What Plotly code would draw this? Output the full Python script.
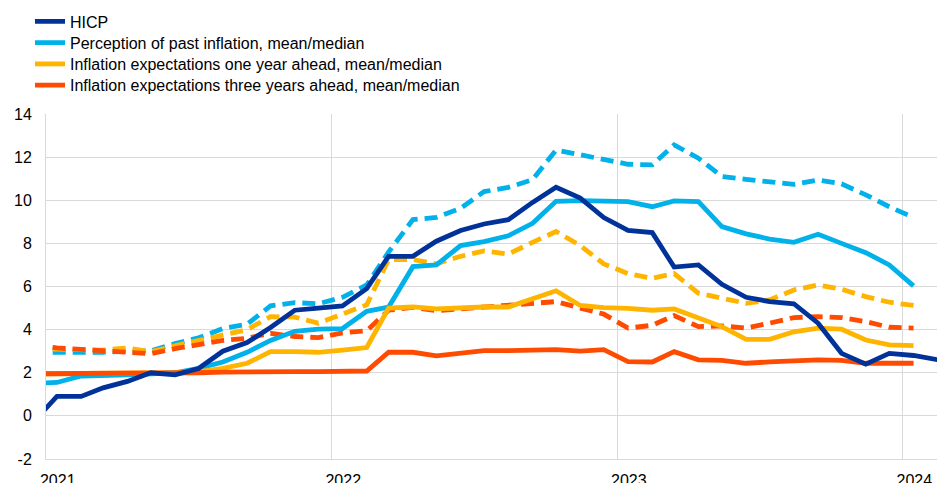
import pandas as pd
import plotly.graph_objects as go

# Monthly observations, Dec 2020 onwards (plotted mid-month)
months_hicp = pd.date_range("2020-12-01", periods=39, freq="MS") + pd.Timedelta(days=14)
months_survey = months_hicp[:38]

hicp = [-0.3,
        0.9, 0.9, 1.3, 1.6, 2.0, 1.9, 2.2, 3.0, 3.4, 4.1, 4.9, 5.0,
        5.1, 5.9, 7.4, 7.4, 8.1, 8.6, 8.9, 9.1, 9.9, 10.6, 10.1, 9.2,
        8.6, 8.5, 6.9, 7.0, 6.1, 5.5, 5.3, 5.2, 4.3, 2.9, 2.4, 2.9,
        2.8, 2.6]

past_median = [1.5,
               1.55, 1.85, 1.9, 1.9, 1.95, 2.0, 2.2, 2.5, 2.95, 3.5, 3.92, 4.02,
               4.05, 4.85, 5.05, 6.92, 7.0, 7.9, 8.08, 8.35, 8.93, 9.95, 9.98, 9.98,
               9.94, 9.7, 9.97, 9.94, 8.78, 8.44, 8.2, 8.05, 8.42, 8.0, 7.57, 7.0,
               6.03]
past_mean = [2.95,
             2.95, 2.93, 2.95, 3.0, 3.02, 3.35, 3.62, 4.05, 4.25, 5.1, 5.25, 5.2,
             5.5, 6.07, 7.6, 9.1, 9.2, 9.63, 10.4, 10.6, 10.95, 12.33, 12.1, 11.87,
             11.67, 11.64, 12.57, 11.95, 11.1, 10.97, 10.87, 10.74, 10.94, 10.76, 10.25, 9.7,
             9.2]
one_year_median = [1.95,
                   1.95, 1.95, 1.95, 1.95, 1.95, 2.0, 2.05, 2.2, 2.44, 2.98, 2.98, 2.95,
                   3.05, 3.17, 5.0, 5.05, 4.96, 5.02, 5.05, 5.05, 5.46, 5.8, 5.12, 5.02,
                   4.99, 4.9, 4.96, 4.56, 4.14, 3.55, 3.55, 3.9, 4.07, 4.02, 3.52, 3.29,
                   3.26]
one_year_mean = [3.12,
                 3.08, 3.05, 3.05, 3.15, 2.98, 3.25, 3.5, 3.78, 4.0, 4.6, 4.58, 4.3,
                 4.75, 5.15, 7.25, 7.25, 7.05, 7.4, 7.65, 7.5, 8.05, 8.55, 7.9, 7.05,
                 6.6, 6.38, 6.6, 5.69, 5.46, 5.22, 5.38, 5.84, 6.07, 5.87, 5.53, 5.27,
                 5.12]
three_year_median = [1.95,
                     1.95, 1.95, 1.95, 1.95, 1.95, 1.97, 2.0, 2.03, 2.05, 2.05, 2.05, 2.05,
                     2.05, 2.08, 2.95, 2.95, 2.78, 2.93, 3.03, 3.03, 3.03, 3.07, 3.0, 3.07,
                     2.52, 2.5, 2.98, 2.6, 2.57, 2.44, 2.5, 2.55, 2.6, 2.57, 2.44, 2.44,
                     2.44]
three_year_mean = [3.28,
                   3.15, 3.08, 3.02, 2.97, 2.88, 3.12, 3.3, 3.5, 3.6, 3.83, 3.68, 3.63,
                   3.85, 3.95, 4.9, 5.03, 4.88, 4.96, 5.05, 5.12, 5.2, 5.3, 5.0, 4.72,
                   4.07, 4.2, 4.65, 4.14, 4.17, 4.07, 4.3, 4.56, 4.6, 4.56, 4.37, 4.11,
                   4.07]

year_ticks = ["2021-01-16", "2022-01-16", "2023-01-16", "2024-01-16"]
year_labels = ["2021", "2022", "2023", "2024"]
y_ticks = [-2, 0, 2, 4, 6, 8, 10, 12, 14]
y_labels = ["-2", "0", "2", "4", "6", "8", "10", "12", "14"]

DARK_BLUE = "#003299"
LIGHT_BLUE = "#00B1EA"
YELLOW = "#FFB400"
ORANGE = "#FF4B00"
GRID = "#d9d9d9"
LW = 4.8
DASH = "13px,7px"

W, H = 937, 483
ML, MR, MT, MB = 46, 0, 114, 24
PW, PH = W - ML - MR, H - MT - MB


def px_to_paper_x(px):
    return (px - ML) / PW


def px_to_paper_y(py):
    return (H - MB - py) / PH


fig = go.Figure()

series = [
    ("Perception of past inflation, mean/median", LIGHT_BLUE, past_median, past_mean, "legend2"),
    ("Inflation expectations one year ahead, mean/median", YELLOW, one_year_median, one_year_mean, "legend3"),
    ("Inflation expectations three years ahead, mean/median", ORANGE, three_year_median, three_year_mean, "legend4"),
]
for name, color, med, mean, lg in series:
    fig.add_trace(go.Scatter(x=months_survey, y=mean, mode="lines", showlegend=False,
                             line=dict(color=color, width=LW, dash=DASH), hoverinfo="skip"))
for name, color, med, mean, lg in series:
    fig.add_trace(go.Scatter(x=months_survey, y=med, mode="lines", name=name, legend=lg,
                             line=dict(color=color, width=LW)))

fig.add_trace(go.Scatter(x=months_hicp, y=hicp, mode="lines", name="HICP", legend="legend",
                         line=dict(color=DARK_BLUE, width=LW)))

legend_rows = {"legend": 21.5, "legend2": 42.8, "legend3": 64.0, "legend4": 85.2}
legend_style = {}
for key, py in legend_rows.items():
    legend_style[key] = dict(x=px_to_paper_x(30), xanchor="left",
                             y=px_to_paper_y(py), yanchor="middle",
                             bgcolor="rgba(0,0,0,0)", itemwidth=30,
                             font=dict(size=16, color="#000000"))

fig.update_layout(
    width=W, height=H,
    margin=dict(l=ML, r=MR, t=MT, b=MB, autoexpand=False),
    paper_bgcolor="white", plot_bgcolor="white",
    font=dict(family="Liberation Sans, Arial, sans-serif", size=16, color="#000000"),
    showlegend=True,
    xaxis=dict(type="date", range=["2021-01-01", "2024-02-14"], automargin=False,
               tickmode="array", tickvals=year_ticks, ticktext=year_labels,
               showgrid=False, ticks="", zeroline=False,
               showline=True, linecolor=GRID, linewidth=1,
               ticklabelstandoff=7,
               minor=dict(dtick="M12", tick0="2021-01-01", showgrid=True,
                          gridcolor=GRID, gridwidth=1)),
    yaxis=dict(range=[-2, 14], automargin=False,
               tickmode="array", tickvals=y_ticks, ticktext=y_labels,
               showgrid=True, gridcolor=GRID,
               gridwidth=1, zeroline=False, ticks="",
               showline=True, linecolor=GRID, linewidth=1,
               ticklabelstandoff=10),
    **legend_style,
)

fig.write_html("out.html",
               config={"displayModeBar": False},
               post_script="document.body.style.margin='0';document.body.style.padding='0';")
